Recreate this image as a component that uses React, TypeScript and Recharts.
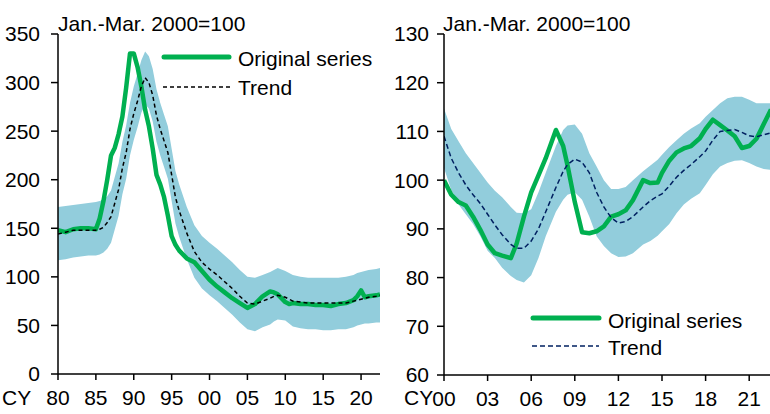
import React from 'react'
import { ComposedChart, Area, Line, XAxis, YAxis } from 'recharts'

// left panel: CY1980-2022
const leftYears = [1980, 1981, 1982, 1983, 1984, 1985, 1985.5, 1986, 1986.5, 1987, 1987.5, 1988, 1988.5, 1989, 1989.5, 1990, 1990.5, 1991, 1991.5, 1992, 1992.5, 1993, 1993.5, 1994, 1994.5, 1995, 1995.5, 1996, 1997, 1998, 1999, 2000, 2001, 2002, 2003, 2004, 2005, 2006, 2007, 2008, 2008.5, 2009, 2010, 2010.5, 2011, 2012, 2013, 2014, 2015, 2016, 2017, 2018, 2019, 2019.5, 2020, 2020.5, 2021, 2022, 2022.5]
const leftOriginal = [148, 146, 149, 150, 150, 149, 160, 178, 200, 225, 233, 247, 265, 295, 330, 330, 316, 296, 272, 255, 232, 205, 195, 182, 163, 142, 133, 127, 119, 115, 106, 97, 90, 84, 78, 73, 68, 72, 80, 85, 84, 82, 74, 72, 73, 72, 72, 71, 71, 70, 72, 73, 76, 80, 86, 79, 80, 81, 82]
const leftTrend = [144, 146, 148, 148, 148, 148, 149, 151, 156, 162, 176, 190, 212, 228, 252, 268, 281, 296, 305, 300, 287, 266, 252, 240, 228, 205, 182, 168, 145, 126, 115, 108, 102, 95, 88, 80, 73, 72, 75, 78, 80, 81, 79, 77, 75, 74, 73, 73, 73, 73, 73, 73, 75, 76, 77, 78, 79, 80, 81]
const leftBandHigh = [172, 173, 174, 175, 176, 177, 178, 179, 183, 189, 203, 217, 239, 256, 279, 296, 309, 323, 332, 327, 314, 293, 279, 267, 255, 232, 209, 195, 172, 153, 142, 135, 129, 122, 115, 107, 100, 99, 102, 105, 107, 109, 106, 104, 102, 100, 99, 99, 99, 99, 99, 100, 102, 104, 105, 106, 107, 108, 109]
const leftBandLow = [117, 118, 120, 121, 122, 122, 123, 125, 129, 135, 149, 163, 185, 201, 225, 241, 254, 269, 278, 273, 260, 239, 225, 213, 201, 178, 155, 141, 118, 99, 88, 81, 75, 68, 61, 53, 46, 44, 48, 51, 54, 56, 55, 52, 49, 47, 46, 46, 45, 45, 46, 46, 48, 50, 51, 52, 52, 53, 53]
const leftXTicks = [1980, 1985, 1990, 1995, 2000, 2005, 2010, 2015, 2020]
const leftYTicks = [0, 50, 100, 150, 200, 250, 300, 350]

// right panel: CY2000-2022
const rightYears = [2000, 2000.5, 2001, 2001.5, 2002, 2002.5, 2003, 2003.5, 2004, 2004.6, 2005, 2005.5, 2006, 2006.5, 2007, 2007.7, 2008.2, 2008.5, 2009, 2009.5, 2010, 2010.5, 2011, 2011.5, 2012, 2012.5, 2013, 2013.7, 2014.2, 2014.7, 2015, 2015.5, 2016, 2016.5, 2017, 2017.6, 2018, 2018.5, 2019, 2019.5, 2020, 2020.5, 2021, 2021.5, 2022, 2022.5]
const rightOriginal = [100, 97, 95.5, 94.8, 92.5, 89.8, 86.8, 85, 84.5, 84, 87, 92.5, 97.5, 101, 104.5, 110.3, 107, 103, 95.5, 89.3, 89.1, 89.5, 90.5, 92.5, 93, 93.8, 95.9, 100, 99.4, 99.5, 101.5, 104, 105.7, 106.5, 107, 108.6, 110.5, 112.4, 111.3, 110.2, 109, 106.6, 107, 108.5, 111.5, 114.5]
const rightTrend = [109, 104.5, 101.5, 99, 97, 95.2, 93, 90.8, 88.8, 86.8, 86, 86, 87.5, 90, 93.5, 98.5, 101.8, 103.2, 104.3, 103.7, 101.5, 97.5, 94.5, 92.3, 91.2, 91.5, 92.5, 94.5, 95.8, 96.7, 97.2, 98.8, 100.6, 102, 103.2, 104.8, 106, 108.2, 110, 110.2, 110.4, 109.8, 109.1, 108.9, 109.3, 109.7]
const rightBandHigh = [114.7, 110.5, 108, 105.5, 103.5, 101.5, 99.5, 97.8, 96.5, 94.5, 93.3, 93.2, 94, 97.5, 101.5, 107, 110.3, 111.2, 111.4, 109.5, 105.5, 102.8, 100, 98.2, 98.2, 98.6, 100, 101.8, 103, 104.2, 105.2, 106.8, 108.2, 109.5, 110.6, 111.7, 113, 114.4, 115.8, 116.8, 117.1, 117.1, 116.5, 115.8, 115.8, 115.8]
const rightBandLow = [102.5, 98, 95, 93, 91, 88.5, 85.5, 84, 82, 80.3, 79.5, 79, 80.5, 84, 88.5, 93.5, 96, 97, 97.5, 96, 92.5, 88.5, 86.5, 85, 84.2, 84.3, 85, 86.8, 87.5, 88.6, 89.5, 91, 93.2, 95, 96.2, 97.3, 99, 101.2, 102.8, 103.5, 104, 104.1, 103.5, 102.8, 102.3, 102.1]
const rightXTicks = [2000, 2003, 2006, 2009, 2012, 2015, 2018, 2021]
const rightYTicks = [60, 70, 80, 90, 100, 110, 120, 130]

const GREEN = '#00B050'
const BAND = '#92CDDC'
const FONT = '"Liberation Sans", Arial, sans-serif'

const leftRows = leftYears.map((year, i) => ({
  year,
  original: leftOriginal[i],
  trend: leftTrend[i],
  band: [leftBandLow[i], leftBandHigh[i]],
}))

const rightRows = rightYears.map((year, i) => ({
  year,
  original: rightOriginal[i],
  trend: rightTrend[i],
  band: [rightBandLow[i], rightBandHigh[i]],
}))

const twoDigit = (v: number) => String(Math.round(v) % 100).padStart(2, '0')

const tickStyle = { fill: '#000', fontSize: 21, fontFamily: FONT }

function Panel({ rows, xDomain, xTicks, yDomain, yTicks, trendColor, dash, right, yMargin, xAxisHeight }: any) {
  return (
    <ComposedChart width={390} height={414} data={rows} margin={{ top: 34, right, bottom: 0, left: 0 }}>
      <XAxis
        type="number"
        dataKey="year"
        domain={xDomain}
        ticks={xTicks}
        interval={0}
        allowDataOverflow
        tickFormatter={twoDigit}
        height={xAxisHeight}
        tickSize={6}
        tickMargin={10}
        axisLine={{ stroke: '#000', strokeWidth: 1.5 }}
        tickLine={{ stroke: '#000', strokeWidth: 1.5 }}
        tick={tickStyle}
      />
      <YAxis
        domain={yDomain}
        ticks={yTicks}
        interval={0}
        allowDataOverflow
        width={58}
        tickSize={7}
        tickMargin={yMargin}
        axisLine={{ stroke: '#000', strokeWidth: 1.5 }}
        tickLine={{ stroke: '#000', strokeWidth: 1.5 }}
        tick={tickStyle}
      />
      <Area type="linear" dataKey="band" stroke="none" fill={BAND} fillOpacity={1} isAnimationActive={false} />
      <Line type="linear" dataKey="original" stroke={GREEN} strokeWidth={4.5} strokeLinejoin="round" dot={false} activeDot={false} isAnimationActive={false} />
      <Line type="linear" dataKey="trend" stroke={trendColor} strokeWidth={1.5} strokeDasharray={dash} dot={false} activeDot={false} isAnimationActive={false} />
    </ComposedChart>
  )
}

export default function App() {
  return (
    <div style={{ position: 'absolute', left: 0, top: 0, width: 770, height: 414, background: '#fff', overflow: 'hidden' }}>
      <div style={{ position: 'absolute', left: 0, top: 0 }}>
        <Panel rows={leftRows} xDomain={[1980, 2022.5]} xTicks={leftXTicks} yDomain={[0, 350]} yTicks={leftYTicks} trendColor="#000" dash="4 3" right={10} yMargin={11} xAxisHeight={40} />
      </div>
      <div style={{ position: 'absolute', left: 386, top: 0 }}>
        <Panel rows={rightRows} xDomain={[2000, 2022.5]} xTicks={rightXTicks} yDomain={[60, 130]} yTicks={rightYTicks} trendColor="#002060" dash="5 3" right={5} yMargin={8} xAxisHeight={39} />
      </div>
      <svg width={770} height={414} style={{ position: 'absolute', left: 0, top: 0, pointerEvents: 'none' }} fontFamily={FONT} fontSize={21} fill="#000">
        <text x={58} y={31}>Jan.-Mar. 2000=100</text>
        <text x={443} y={31}>Jan.-Mar. 2000=100</text>
        <text x={2} y={405}>CY</text>
        <text x={404} y={405}>CY</text>
        <line x1={164} x2={229} y1={57} y2={57} stroke={GREEN} strokeWidth={5} strokeLinecap="round" />
        <text x={238} y={66}>Original series</text>
        <line x1={163} x2={230} y1={87} y2={87} stroke="#000" strokeWidth={1.5} strokeDasharray="4 3" />
        <text x={238} y={95}>Trend</text>
        <line x1={533} x2={599} y1={318} y2={318} stroke={GREEN} strokeWidth={5} strokeLinecap="round" />
        <text x={608} y={328}>Original series</text>
        <line x1={532} x2={599} y1={346} y2={346} stroke="#002060" strokeWidth={1.5} strokeDasharray="5 3" />
        <text x={608} y={355}>Trend</text>
      </svg>
    </div>
  )
}
